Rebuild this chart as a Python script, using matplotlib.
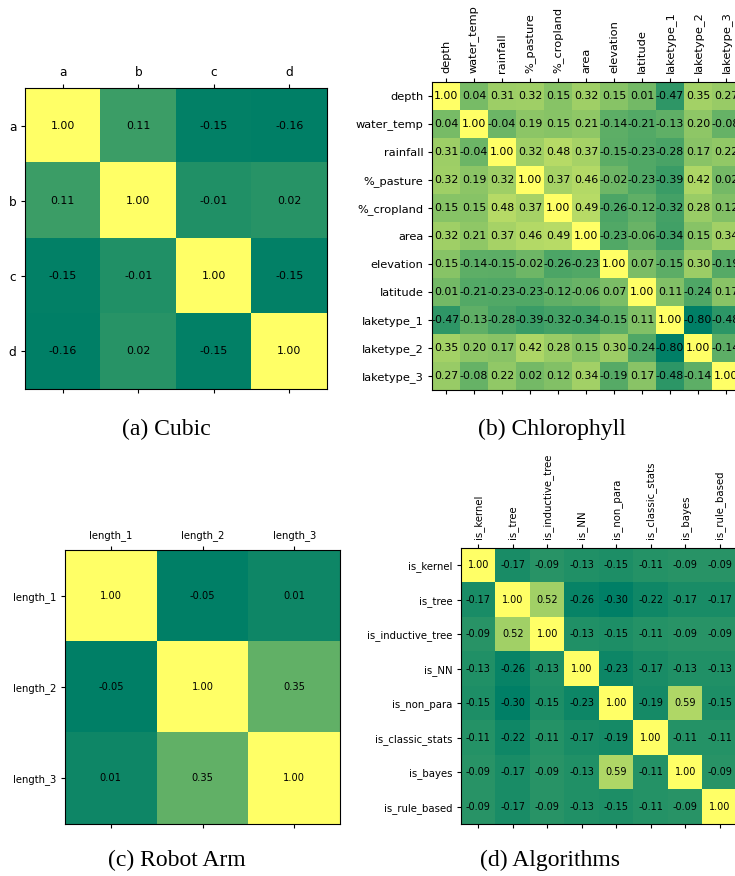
import numpy as np
import matplotlib
matplotlib.use("Agg")
import matplotlib.pyplot as plt

# panel data
cubic_labels = ["a", "b", "c", "d"]
cubic_corr = [
    [1.00, 0.11, -0.15, -0.16],
    [0.11, 1.00, -0.01, 0.02],
    [-0.15, -0.01, 1.00, -0.15],
    [-0.16, 0.02, -0.15, 1.00],
]

chloro_labels = ["depth", "water_temp", "rainfall", "%_pasture", "%_cropland", "area",
                 "elevation", "latitude", "laketype_1", "laketype_2", "laketype_3"]
chloro_corr = [
    [1.00, 0.04, 0.31, 0.32, 0.15, 0.32, 0.15, 0.01, -0.47, 0.35, 0.27],
    [0.04, 1.00, -0.04, 0.19, 0.15, 0.21, -0.14, -0.21, -0.13, 0.20, -0.08],
    [0.31, -0.04, 1.00, 0.32, 0.48, 0.37, -0.15, -0.23, -0.28, 0.17, 0.22],
    [0.32, 0.19, 0.32, 1.00, 0.37, 0.46, -0.02, -0.23, -0.39, 0.42, 0.02],
    [0.15, 0.15, 0.48, 0.37, 1.00, 0.49, -0.26, -0.12, -0.32, 0.28, 0.12],
    [0.32, 0.21, 0.37, 0.46, 0.49, 1.00, -0.23, -0.06, -0.34, 0.15, 0.34],
    [0.15, -0.14, -0.15, -0.02, -0.26, -0.23, 1.00, 0.07, -0.15, 0.30, -0.19],
    [0.01, -0.21, -0.23, -0.23, -0.12, -0.06, 0.07, 1.00, 0.11, -0.24, 0.17],
    [-0.47, -0.13, -0.28, -0.39, -0.32, -0.34, -0.15, 0.11, 1.00, -0.80, -0.48],
    [0.35, 0.20, 0.17, 0.42, 0.28, 0.15, 0.30, -0.24, -0.80, 1.00, -0.14],
    [0.27, -0.08, 0.22, 0.02, 0.12, 0.34, -0.19, 0.17, -0.48, -0.14, 1.00],
]

robot_labels = ["length_1", "length_2", "length_3"]
robot_corr = [
    [1.00, -0.05, 0.01],
    [-0.05, 1.00, 0.35],
    [0.01, 0.35, 1.00],
]

algo_labels = ["is_kernel", "is_tree", "is_inductive_tree", "is_NN", "is_non_para",
               "is_classic_stats", "is_bayes", "is_rule_based"]
algo_corr = [
    [1.00, -0.17, -0.09, -0.13, -0.15, -0.11, -0.09, -0.09],
    [-0.17, 1.00, 0.52, -0.26, -0.30, -0.22, -0.17, -0.17],
    [-0.09, 0.52, 1.00, -0.13, -0.15, -0.11, -0.09, -0.09],
    [-0.13, -0.26, -0.13, 1.00, -0.23, -0.17, -0.13, -0.13],
    [-0.15, -0.30, -0.15, -0.23, 1.00, -0.19, 0.59, -0.15],
    [-0.11, -0.22, -0.11, -0.17, -0.19, 1.00, -0.11, -0.11],
    [-0.09, -0.17, -0.09, -0.13, 0.59, -0.11, 1.00, -0.09],
    [-0.09, -0.17, -0.09, -0.13, -0.15, -0.11, -0.09, 1.00],
]

W, H = 735, 876
fig = plt.figure(figsize=(W / 100, H / 100), dpi=100)


def px_axes(left, top, right, bottom):
    return fig.add_axes([left / W, 1 - bottom / H, (right - left) / W, (bottom - top) / H])


def heatmap(ax, corr, labels, tick_fs, annot_fs, rotate):
    corr = np.array(corr)
    ax.matshow(corr, cmap="summer", aspect="auto")
    n = len(labels)
    ax.set_xticks(range(n))
    ax.set_yticks(range(n))
    ax.set_xticklabels(labels, fontsize=tick_fs, rotation=90 if rotate else 0)
    ax.set_yticklabels(labels, fontsize=tick_fs)
    ax.tick_params(length=2.8)
    for i in range(n):
        for j in range(n):
            ax.text(j, i, "%.2f" % corr[i, j], ha="center", va="center",
                    fontsize=annot_fs, color="black")


heatmap(px_axes(25, 88, 327, 389), cubic_corr, cubic_labels, 8.7, 7.9, False)
heatmap(px_axes(432, 82, 740, 390), chloro_corr, chloro_labels, 8.2, 7.9, True)
heatmap(px_axes(65, 550, 340, 824), robot_corr, robot_labels, 7.2, 7.1, False)
heatmap(px_axes(461, 548, 737, 824), algo_corr, algo_labels, 7.3, 7.0, True)

cap = dict(ha="center", va="center", fontsize=17, family="Liberation Serif")
fig.text(166 / W, 1 - 429 / H, "(a) Cubic", **cap)
fig.text(552 / W, 1 - 429 / H, "(b) Chlorophyll", **cap)
fig.text(177 / W, 1 - 860 / H, "(c) Robot Arm", **cap)
fig.text(550 / W, 1 - 860 / H, "(d) Algorithms", **cap)

fig.savefig("out.png", dpi=100)
